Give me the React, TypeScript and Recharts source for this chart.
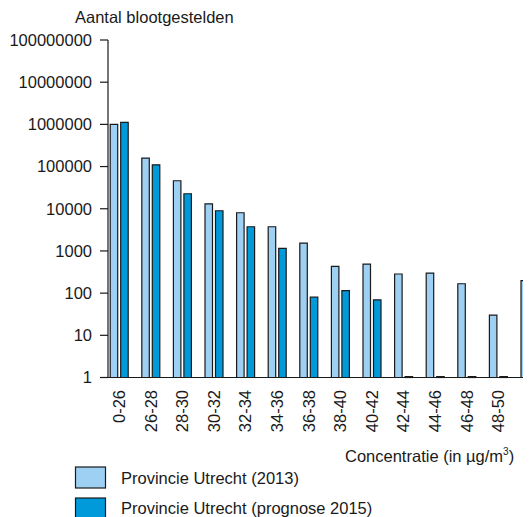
import React from 'react';
import { BarChart, Bar, XAxis, YAxis } from 'recharts';

const categories = ['0-26', '26-28', '28-30', '30-32', '32-34', '34-36', '36-38', '38-40', '40-42', '42-44', '44-46', '46-48', '48-50', '> 50'];
const exposed2013 = [1000000, 159000, 46100, 13100, 8040, 3740, 1540, 432, 489, 284, 299, 167, 30, 197];
const exposed2015 = [1110000, 110000, 22700, 8970, 3740, 1150, 80, 114, 69, 1.05, 1.05, 1.05, 1.05, 1.05];
const yTicks = [1, 10, 100, 1000, 10000, 100000, 1000000, 10000000, 100000000];
const seriesNames = ['Provincie Utrecht (2013)', 'Provincie Utrecht (prognose 2015)'];
const yTitle = 'Aantal blootgestelden';
const xTitle = 'Concentratie (in µg/m';
const xTitleSup = '3';

const colors = ['#9dd0f3', '#009adb'];
const STROKE = '#1a1a1a';
const FONT = '"Liberation Sans", Arial, Helvetica, sans-serif';
const FS = 16.5;

const data = categories.map((c, i) => ({ cat: c, a: exposed2013[i], b: exposed2015[i] }));

function XTick(props: any) {
  const { x, y, payload } = props;
  return (
    <g transform={`translate(${x}, ${y}) rotate(-90)`}>
      <text x={0} y={0} dy="0.36em" textAnchor="end" fontSize={FS} fill="#1a1a1a" fontFamily={FONT}>
        {payload.value}
      </text>
    </g>
  );
}

export default function App() {
  return (
    <div style={{ position: 'relative', width: 523, height: 509 }}>
      <style>{`html,body{overflow:hidden}`}</style>
      <BarChart
        width={523}
        height={509}
        data={data}
        margin={{ top: 32, right: -14.6, left: 0, bottom: 89 }}
        barSize={7.5}
        barGap={3}
      >
        <XAxis
          dataKey="cat"
          type="category"
          interval={0}
          height={50.5}
          padding={{ left: -4.8, right: 0 }}
          axisLine={{ stroke: STROKE, strokeWidth: 1.2 }}
          tickLine={false}
          tickSize={0}
          tickMargin={12.5}
          tick={<XTick />}
        />
        <YAxis
          type="number"
          scale="log"
          domain={[1, 100000000]}
          ticks={yTicks}
          interval={0}
          width={100}
          tickFormatter={(v: number) => String(v)}
          axisLine={{ stroke: STROKE, strokeWidth: 1.2 }}
          tickLine={{ stroke: STROKE, strokeWidth: 1.2 }}
          tickSize={8}
          tickMargin={8}
          tick={{ fontSize: FS, fill: '#1a1a1a', fontFamily: FONT }}
        />
        <Bar dataKey="a" name={seriesNames[0]} fill={colors[0]} stroke={STROKE} strokeWidth={1.2} isAnimationActive={false} />
        <Bar dataKey="b" name={seriesNames[1]} fill={colors[1]} stroke={STROKE} strokeWidth={1.2} isAnimationActive={false} />
      </BarChart>
      <svg
        width={523}
        height={509}
        style={{ position: 'absolute', left: 0, top: 0, pointerEvents: 'none' }}
      >
        <text x={67} y={14.5} fontSize={FS} fill="#1a1a1a" fontFamily={FONT}>{yTitle}</text>
        <text x={337} y={453.7} fontSize={FS} fill="#1a1a1a" fontFamily={FONT}>
          {xTitle}
          <tspan fontSize={10} dy={-7}>{xTitleSup}</tspan>
          <tspan dy={7}>)</tspan>
        </text>
        {seriesNames.map((n, i) => (
          <g key={n}>
            <rect x={67.5} y={459 + i * 31} width={30} height={21} fill={colors[i]} stroke={STROKE} strokeWidth={1.2} />
            <text x={113} y={476.3 + i * 30} fontSize={FS} fill="#1a1a1a" fontFamily={FONT}>{n}</text>
          </g>
        ))}
      </svg>
    </div>
  );
}
